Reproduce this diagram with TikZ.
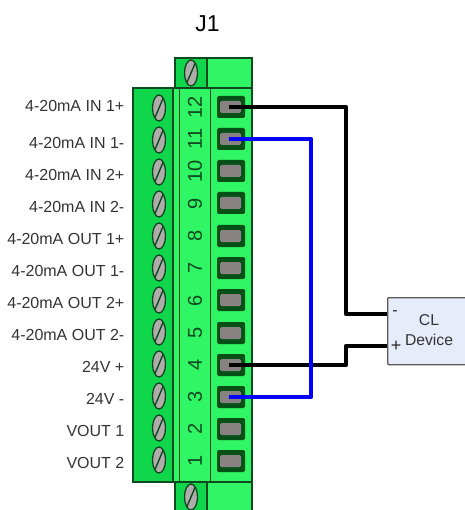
\documentclass[tikz,border=0pt]{standalone}
\usepackage{fontspec}
\setmainfont{Liberation Sans}
\usetikzlibrary{shapes.geometric}
\pgfdeclarelayer{bg}
\pgfsetlayers{bg,main}
\definecolor{blockgreen}{RGB}{16,214,76}
\definecolor{stripgreen}{RGB}{48,245,100}
\definecolor{plugdark}{RGB}{6,80,24}
\definecolor{edgegreen}{RGB}{14,72,30}
\definecolor{screwgray}{RGB}{176,172,172}
\definecolor{slotgray}{RGB}{136,130,130}
\definecolor{devfill}{RGB}{230,236,250}
\tikzset{
    every node/.style={inner sep=0mm, font=\fontsize{16}{18}\selectfont},
    pinlabel/.style={anchor=east, text=black!80},
    pinnum/.style={rotate=90, text=edgegreen, font=\fontsize{20}{20}\selectfont},
    housing/.style={rectangle, draw=edgegreen, line width=1.3pt, fill=#1},
    screw/.style={ellipse, draw=edgegreen, line width=1.3pt, fill=screwgray, minimum width=13pt, minimum height=26pt,
        path picture={\draw[edgegreen, line width=1.4pt] ([xshift=1pt]path picture bounding box.south west) -- ([xshift=-1pt]path picture bounding box.north east);}},
    socket/.style={rectangle, rounded corners=1.5pt, fill=plugdark, minimum width=28pt, minimum height=22pt,
        path picture={\fill[slotgray] ([xshift=-11pt,yshift=-6pt]path picture bounding box.center) rectangle ([xshift=10pt,yshift=6pt]path picture bounding box.center);}},
    wire/.style={line width=4.2pt, line join=round}
}
\begin{document}
\begin{tikzpicture}[x=1pt,y=-1pt]
        \useasboundingbox (0,0) rectangle (464,510);
        \begin{pgfonlayer}{bg}
                \node (top) [housing=stripgreen, minimum width=77pt, minimum height=30pt] at (213.5,73) {};
                \node (topl) [housing=blockgreen, minimum width=32pt, minimum height=30pt] at (191,73) {};
                \node (bot) [housing=stripgreen, minimum width=77pt, minimum height=36pt] at (213.5,500) {};
                \node (botl) [housing=blockgreen, minimum width=32pt, minimum height=36pt] at (191,500) {};
                \node (right) [housing=stripgreen, minimum width=42pt, minimum height=394pt] at (231,285) {};
                \node (left) [housing=blockgreen, minimum width=40pt, minimum height=394pt] at (153,285) {};
                \node (gap) [housing=stripgreen, minimum width=7pt, minimum height=394pt] at (176.5,285) {};
                \node (strip) [housing=stripgreen, minimum width=31pt, minimum height=394pt] at (195,285) {};
        \end{pgfonlayer}
        \node (sctop) [screw] at (191,73) {};
        \node (scbot) [screw] at (191,497) {};
        \node (l12) [pinlabel] at (124.5,106) {4-20mA IN 1+};
        \node (l11) [pinlabel] at (124.5,143) {4-20mA IN 1-};
        \node (l10) [pinlabel] at (124.5,175) {4-20mA IN 2+};
        \node (l9) [pinlabel] at (124.5,207) {4-20mA IN 2-};
        \node (l8) [pinlabel] at (124.5,239) {4-20mA OUT 1+};
        \node (l7) [pinlabel] at (124.5,271) {4-20mA OUT 1-};
        \node (l6) [pinlabel] at (124.5,303) {4-20mA OUT 2+};
        \node (l5) [pinlabel] at (124.5,335) {4-20mA OUT 2-};
        \node (l4) [pinlabel] at (124.5,367) {24V +};
        \node (l3) [pinlabel] at (124.5,399) {24V -};
        \node (l2) [pinlabel] at (124.5,431) {VOUT 1};
        \node (l1) [pinlabel] at (124.5,463) {VOUT 2};
        \node (sc12) [screw] at (159,108) {};
        \node (sc11) [screw] at (159,140) {};
        \node (sc10) [screw] at (159,172) {};
        \node (sc9) [screw] at (159,204) {};
        \node (sc8) [screw] at (159,236) {};
        \node (sc7) [screw] at (159,268) {};
        \node (sc6) [screw] at (159,300) {};
        \node (sc5) [screw] at (159,332) {};
        \node (sc4) [screw] at (159,364) {};
        \node (sc3) [screw] at (159,396) {};
        \node (sc2) [screw] at (159,428) {};
        \node (sc1) [screw] at (159,460) {};
        \node (n12) [pinnum] at (195,107) {12};
        \node (n11) [pinnum] at (195,139) {11};
        \node (n10) [pinnum] at (195,171) {10};
        \node (n9) [pinnum] at (195,204) {9};
        \node (n8) [pinnum] at (195,236) {8};
        \node (n7) [pinnum] at (195,268) {7};
        \node (n6) [pinnum] at (195,301) {6};
        \node (n5) [pinnum] at (195,333) {5};
        \node (n4) [pinnum] at (195,365) {4};
        \node (n3) [pinnum] at (195,397) {3};
        \node (n2) [pinnum] at (195,429) {2};
        \node (n1) [pinnum] at (195,461) {1};
        \node (s12) [socket] at (231,107) {};
        \node (s11) [socket] at (231,139) {};
        \node (s10) [socket] at (231,171) {};
        \node (s9) [socket] at (231,203) {};
        \node (s8) [socket] at (231,236) {};
        \node (s7) [socket] at (231,268) {};
        \node (s6) [socket] at (231,300) {};
        \node (s5) [socket] at (231,333) {};
        \node (s4) [socket] at (231,365) {};
        \node (s3) [socket] at (231,397) {};
        \node (s2) [socket] at (231,429) {};
        \node (s1) [socket] at (231,461) {};
        \node (j1) [font=\fontsize{23}{23}\selectfont] at (207.5,24) {J1};
        \node (dev) [rectangle, rounded corners=1pt, draw=black!65, line width=1.3pt, fill=devfill, anchor=north west, minimum width=90pt, minimum height=67pt] at (387,297) {};
        \node (devtxt) [align=center, font=\fontsize{15.7}{20}\selectfont, text=black!80] at (429,330) {CL\\Device};
        \node (minus) [text=black!85] at (395,313) {-};
        \node (plus) [font=\fontsize{18}{18}\selectfont, text=black!85] at (396,346) {+};
        \coordinate (devm) at (387,314);
        \coordinate (devp) at (387,346);
        \coordinate (kink1) at (346,314);
        \coordinate (kink2) at (346,346);
        \coordinate (kink3) at (311,139);
        \draw [wire] ([xshift=-2pt]s12.center) -| (kink1) -- (devm);
        \draw [wire] ([xshift=-2pt]s4.center) -| (kink2) -- (devp);
        \draw [wire, blue] ([xshift=-2pt]s11.center) -| (kink3) |- ([xshift=-2pt]s3.center);
\end{tikzpicture}
\end{document}
